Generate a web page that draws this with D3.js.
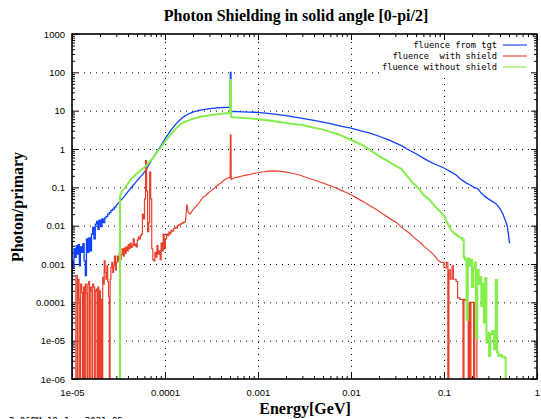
<!DOCTYPE html>
<html><head><meta charset="utf-8">
<script src="https://cdn.jsdelivr.net/npm/d3@7"></script>
<style>
body{margin:0;background:#fff;}
svg{display:block;}
</style></head>
<body>
<svg id="chart" width="541" height="419"></svg>
<script>
// ---- data ----
const xTickValues = [1e-5, 1e-4, 1e-3, 1e-2, 1e-1, 1];
const xTickLabels = ["1e-05", "0.0001", "0.001", "0.01", "0.1", "1"];
const yTickValues = [1e-6, 1e-5, 1e-4, 1e-3, 1e-2, 1e-1, 1, 10, 100, 1000];
const yTickLabels = ["1e-06", "1e-05", "0.0001", "0.001", "0.01", "0.1", "1", "10", "100", "1000"];
const seriesNames = ["fluence from tgt", "fluence  with shield", "fluence without shield"];
const seriesColors = ["#1040ff", "#e8402c", "#84ee4c"];

// [energy GeV, photon/primary] ; 0 = empty bin
const fluenceTgt = [
 [1.00e-5,0],[1.00e-5,0.0012],[1.03e-5,0.0008],[1.05e-5,0.0025],[1.08e-5,0.0015],[1.11e-5,0.0030],
 [1.14e-5,0.0018],[1.17e-5,0.0032],[1.20e-5,0.0009],[1.23e-5,0.0028],[1.27e-5,0.0020],[1.31e-5,0.0034],
 [1.35e-5,0.0012],[1.39e-5,0.0005],[1.43e-5,0.0045],[1.47e-5,0.0020],[1.52e-5,0.0048],[1.57e-5,0.0022],
 [1.62e-5,0.0060],[1.67e-5,0.0090],[1.72e-5,0.0045],[1.78e-5,0.0110],[1.84e-5,0.0130],[1.90e-5,0.0080],
 [1.96e-5,0.0140],[2.03e-5,0.0095],[2.10e-5,0.0150],[2.17e-5,0.0120],[2.25e-5,0.0160],[2.33e-5,0.0175],
 [2.42e-5,0.0200],[2.52e-5,0.0220],[2.62e-5,0.0250],[2.73e-5,0.0270],[2.85e-5,0.0310],[2.97e-5,0.0330],
 [3.10e-5,0.0370],[3.25e-5,0.0420],[3.40e-5,0.0480],[3.56e-5,0.0540],[3.73e-5,0.0620],[3.91e-5,0.0720],
 [4.10e-5,0.0830],[4.30e-5,0.0960],[4.50e-5,0.110],[4.72e-5,0.125],[4.95e-5,0.145],[5.20e-5,0.165],
 [5.46e-5,0.190],[5.73e-5,0.215],[6.00e-5,0.250],[6.30e-5,0.290],[6.60e-5,0.36],[6.90e-5,0.44],
 [7.30e-5,0.55],[7.70e-5,0.67],[8.10e-5,0.82],[8.50e-5,0.98],[9.00e-5,1.20],[9.50e-5,1.50],
 [1.00e-4,1.85],[1.06e-4,2.25],[1.12e-4,2.75],[1.18e-4,3.3],[1.25e-4,3.9],[1.32e-4,4.6],
 [1.40e-4,5.3],[1.48e-4,6.0],[1.57e-4,6.8],[1.67e-4,7.5],[1.78e-4,8.2],[1.90e-4,8.8],
 [2.03e-4,9.3],[2.17e-4,9.7],[2.32e-4,10.2],[2.48e-4,10.5],[2.65e-4,10.8],[2.83e-4,11.0],
 [3.03e-4,11.3],[3.24e-4,11.5],[3.46e-4,11.7],[3.70e-4,11.9],[3.96e-4,12.0],[4.23e-4,12.1],
 [4.52e-4,12.2],[4.83e-4,12.2],[5.02e-4,12.2],[5.05e-4,100],[5.12e-4,100],[5.15e-4,9.6],[5.40e-4,9.5],[6.00e-4,9.4],
 [7.00e-4,9.3],[8.00e-4,9.2],[9.00e-4,9.1],[1.00e-3,9.0],[1.20e-3,8.6],[1.50e-3,8.1],
 [2.00e-3,7.4],[2.50e-3,6.8],[3.00e-3,6.3],[4.00e-3,5.6],[5.00e-3,5.0],[6.00e-3,4.6],
 [7.00e-3,4.2],[8.00e-3,3.9],[1.00e-2,3.5],[1.25e-2,3.0],[1.60e-2,2.6],[2.00e-2,2.15],
 [2.50e-2,1.75],[3.00e-2,1.45],[3.50e-2,1.22],[4.00e-2,1.0],[5.00e-2,0.75],[6.00e-2,0.58],
 [7.00e-2,0.47],[8.00e-2,0.40],[1.00e-1,0.32],[1.10e-1,0.28],[1.20e-1,0.25],[1.35e-1,0.21],
 [1.50e-1,0.165],[1.70e-1,0.135],[1.90e-1,0.115],[2.10e-1,0.10],[2.30e-1,0.092],[2.50e-1,0.072],
 [2.75e-1,0.058],[3.00e-1,0.050],[3.30e-1,0.043],[3.60e-1,0.038],[4.00e-1,0.028],[4.30e-1,0.020],
 [4.60e-1,0.013],[4.80e-1,0.0095],[4.95e-1,0.0055],[5.05e-1,0.0036],[5.15e-1,0.0036]
];

const fluenceWithShield = [
 [1.08e-5,0],[1.10e-5,0.0005],[1.14e-5,0],[1.16e-5,0.0004],[1.19e-5,0.00012],[1.21e-5,0],
 [1.24e-5,0.0003],[1.27e-5,0.00018],[1.30e-5,0],[1.33e-5,0.00025],[1.36e-5,0],[1.39e-5,0.0003],
 [1.42e-5,0.00017],[1.45e-5,0],[1.48e-5,0.0003],[1.51e-5,0.00035],[1.54e-5,0],[1.57e-5,0.00025],
 [1.61e-5,0.0002],[1.64e-5,0],[1.67e-5,0.0003],[1.71e-5,0.00025],[1.75e-5,0],[1.78e-5,0.0002],
 [1.82e-5,0.00022],[1.86e-5,0],[1.90e-5,0.00025],[1.94e-5,0],[1.98e-5,0.0002],[2.02e-5,0],
 [2.06e-5,0.00012],[2.10e-5,0],[2.14e-5,0.00045],[2.18e-5,0.0003],[2.22e-5,0.0012],[2.27e-5,0.0006],
 [2.32e-5,0.0004],[2.37e-5,0.0009],[2.42e-5,0.00035],[2.47e-5,0.00014],[2.52e-5,0],[2.57e-5,0.0004],
 [2.62e-5,0.0008],[2.68e-5,0.0011],[2.74e-5,0.0006],[2.80e-5,0.0009],[2.86e-5,0.0016],[2.93e-5,0.0007],
 [3.00e-5,0.0011],[3.07e-5,0.0016],[3.14e-5,0.0012],[3.22e-5,0.0020],[3.30e-5,0.0013],[3.38e-5,0.0018],
 [3.46e-5,0.0025],[3.55e-5,0.0016],[3.64e-5,0.0026],[3.73e-5,0.0019],[3.82e-5,0.0028],[3.92e-5,0.0022],
 [4.02e-5,0.0032],[4.12e-5,0.0025],[4.22e-5,0.0035],[4.33e-5,0.0027],[4.44e-5,0.0031],[4.55e-5,0.0045],
 [4.67e-5,0.0030],[4.79e-5,0.0033],[4.91e-5,0.0028],[5.03e-5,0.0042],[5.16e-5,0.0050],[5.30e-5,0.0045],
 [5.44e-5,0.0055],[5.58e-5,0.0060],[5.72e-5,0.020],[5.87e-5,0.015],[6.02e-5,0.050],[6.18e-5,0.50],
 [6.34e-5,0.080],[6.50e-5,0.007],[6.67e-5,0.012],[6.84e-5,0.25],[7.02e-5,0.050],[7.20e-5,0.0025],
 [7.39e-5,0.0013],[7.58e-5,0.0012],[7.78e-5,0.0020],[7.98e-5,0.0015],[8.19e-5,0.0030],[8.40e-5,0.0018],
 [8.62e-5,0.0022],[8.85e-5,0.0013],[9.08e-5,0.0035],[9.32e-5,0.0022],[9.56e-5,0.0060],[9.81e-5,0.0025],
 [1.01e-4,0.0045],[1.04e-4,0.0060],[1.07e-4,0.0055],[1.10e-4,0.0068],[1.13e-4,0.0062],[1.16e-4,0.0075],
 [1.20e-4,0.0072],[1.24e-4,0.0085],[1.28e-4,0.0090],[1.32e-4,0.0088],[1.36e-4,0.010],[1.40e-4,0.0105],
 [1.45e-4,0.011],[1.50e-4,0.0115],[1.55e-4,0.012],[1.60e-4,0.0125],[1.66e-4,0.013],[1.72e-4,0.036],
 [1.78e-4,0.022],[1.86e-4,0.020],[1.95e-4,0.024],[2.05e-4,0.028],[2.15e-4,0.032],[2.26e-4,0.036],
 [2.37e-4,0.042],[2.48e-4,0.050],[2.60e-4,0.057],[2.73e-4,0.060],[2.86e-4,0.068],[3.00e-4,0.075],
 [3.15e-4,0.082],[3.30e-4,0.090],[3.46e-4,0.10],[3.63e-4,0.11],[3.80e-4,0.12],[4.00e-4,0.13],
 [4.20e-4,0.145],[4.40e-4,0.16],[4.62e-4,0.17],[4.85e-4,0.18],[5.02e-4,0.18],[5.05e-4,2.3],[5.12e-4,2.3],[5.15e-4,0.16],
 [5.50e-4,0.175],[6.00e-4,0.185],[6.60e-4,0.195],[7.20e-4,0.205],[8.00e-4,0.215],[9.00e-4,0.23],
 [1.00e-3,0.24],[1.15e-3,0.255],[1.30e-3,0.265],[1.50e-3,0.27],[1.70e-3,0.265],[2.00e-3,0.25],
 [2.40e-3,0.23],[2.80e-3,0.21],[3.30e-3,0.18],[4.00e-3,0.155],[5.00e-3,0.13],[6.00e-3,0.11],
 [7.00e-3,0.095],[8.00e-3,0.082],[9.00e-3,0.072],[1.00e-2,0.064],[1.20e-2,0.050],[1.40e-2,0.040],
 [1.60e-2,0.033],[1.90e-2,0.026],[2.20e-2,0.020],[2.60e-2,0.0155],[3.10e-2,0.012],[3.60e-2,0.0085],
 [4.20e-2,0.0065],[4.80e-2,0.0048],[5.50e-2,0.0037],[6.20e-2,0.0028],[7.00e-2,0.0022],[7.80e-2,0.0017],
 [8.50e-2,0.0013],[9.30e-2,0.0011],[1.00e-1,0.0008],[1.06e-1,0.0011],[1.10e-1,0],[1.13e-1,0.0007],
 [1.17e-1,0.0004],[1.22e-1,0.0009],[1.26e-1,0.0004],[1.30e-1,0.0004],[1.35e-1,0.00035],[1.40e-1,0.00013],
 [1.48e-1,0.00012],[1.56e-1,0.00012],[1.60e-1,0],[1.64e-1,0.00012],[1.70e-1,0.00011],[1.76e-1,0.0001],
 [1.82e-1,0],[1.86e-1,0.0001],[1.90e-1,0],[1.95e-1,0.0001],[2.02e-1,0.0001],[2.08e-1,0],
 [2.14e-1,0.0001],[2.20e-1,0.0001],[2.26e-1,0],[2.30e-1,0]
];

const fluenceWithoutShield = [
 [3.28e-5,0],[3.28e-5,0.056],[3.38e-5,0.070],[3.50e-5,0.085],[3.62e-5,0.090],[3.75e-5,0.10],
 [3.90e-5,0.115],[4.05e-5,0.13],[4.20e-5,0.15],[4.40e-5,0.17],[4.60e-5,0.19],[4.80e-5,0.21],
 [5.00e-5,0.23],[5.20e-5,0.25],[5.45e-5,0.28],[5.70e-5,0.30],[6.00e-5,0.33],[6.30e-5,0.37],
 [6.60e-5,0.42],[6.90e-5,0.48],[7.30e-5,0.56],[7.70e-5,0.66],[8.10e-5,0.78],[8.50e-5,0.92],
 [9.00e-5,1.1],[9.50e-5,1.3],[1.00e-4,1.55],[1.06e-4,1.85],[1.12e-4,2.2],[1.18e-4,2.6],
 [1.25e-4,3.0],[1.32e-4,3.5],[1.40e-4,4.0],[1.48e-4,4.5],[1.57e-4,4.9],[1.67e-4,5.2],
 [1.78e-4,5.5],[1.90e-4,5.9],[2.03e-4,6.2],[2.17e-4,6.5],[2.32e-4,6.8],[2.48e-4,7.0],
 [2.65e-4,7.2],[2.83e-4,7.4],[3.03e-4,7.6],[3.24e-4,7.8],[3.46e-4,7.9],[3.70e-4,8.1],
 [3.96e-4,8.2],[4.23e-4,8.4],[4.52e-4,8.5],[4.83e-4,8.6],[5.02e-4,8.6],[5.05e-4,63],[5.12e-4,63],[5.15e-4,6.8],
 [5.40e-4,6.7],[6.00e-4,6.6],[7.00e-4,6.4],[8.00e-4,6.3],[1.00e-3,6.0],[1.20e-3,5.7],
 [1.50e-3,5.3],[2.00e-3,4.8],[2.50e-3,4.45],[3.00e-3,4.2],[4.00e-3,3.6],[5.00e-3,3.2],
 [6.00e-3,2.8],[7.00e-3,2.5],[8.00e-3,2.2],[1.00e-2,1.72],[1.25e-2,1.35],[1.60e-2,0.95],
 [2.00e-2,0.65],[2.50e-2,0.48],[3.00e-2,0.37],[3.50e-2,0.30],[4.00e-2,0.20],[4.50e-2,0.14],
 [5.00e-2,0.11],[5.50e-2,0.085],[6.00e-2,0.065],[7.00e-2,0.047],[8.00e-2,0.032],[9.00e-2,0.024],
 [1.00e-1,0.018],[1.10e-1,0.011],[1.20e-1,0.0075],[1.30e-1,0.0062],[1.40e-1,0.0055],[1.50e-1,0.0048],
 [1.58e-1,0.0042],[1.63e-1,0.0015],[1.68e-1,0.0013],[1.75e-1,3.5e-5],[1.80e-1,0.0014],[1.87e-1,0.0009],
 [1.95e-1,0.0013],[2.00e-1,0.00025],[2.07e-1,0.0008],[2.14e-1,0.0011],[2.20e-1,1.2e-5],[2.28e-1,0.0007],
 [2.36e-1,0.0003],[2.44e-1,0.00045],[2.52e-1,8e-5],[2.60e-1,0.0003],[2.68e-1,3e-5],[2.77e-1,0.00043],
 [2.86e-1,9e-6],[2.95e-1,1.6e-5],[3.05e-1,4e-6],[3.15e-1,1.5e-5],[3.30e-1,1.8e-5],[3.45e-1,6e-6],
 [3.60e-1,0.00038],[3.72e-1,5e-6],[3.85e-1,4e-6],[4.00e-1,4.2e-6],[4.20e-1,3.8e-6],[4.45e-1,3.6e-6],
 [4.60e-1,0],[4.70e-1,0]
];

const seriesData = [fluenceTgt, fluenceWithShield, fluenceWithoutShield];
// energy ranges drawn as histogram steps (noisy parts); the rest is drawn as joined lines
const stepRanges = [[[0, 3.0e-5]], [[0, 1.7e-4], [0.1, 1]], [[0.158, 1]]];

// ---- layout ----
const svg = d3.select("#chart");
const L = 72, R = 537, T = 34, B = 379;
const x = d3.scaleLog().domain([1e-5, 1]).range([L, R]);
const y = d3.scaleLog().domain([1e-6, 1000]).range([B, T]);

const minorX = [], minorY = [];
xTickValues.slice(0, -1).forEach(d => { for (let k = 2; k <= 9; k++) minorX.push(d * k); });
yTickValues.slice(0, -1).forEach(d => { for (let k = 2; k <= 9; k++) minorY.push(d * k); });

svg.append("defs").append("clipPath").attr("id", "clip")
  .append("rect").attr("x", L).attr("y", T).attr("width", R - L).attr("height", B - T);

// grid
const gridStyle = g => g.selectAll("line").attr("stroke", "#000").attr("stroke-width", 1).attr("stroke-dasharray", "1,5");
svg.append("g").attr("transform", `translate(0,${B})`)
  .call(d3.axisBottom(x).tickValues(xTickValues.slice(1, -1)).tickSize(-(B - T)).tickFormat(""))
  .call(g => g.select(".domain").remove()).call(gridStyle);
svg.append("g").attr("transform", `translate(${L},0)`)
  .call(d3.axisLeft(y).tickValues(yTickValues.slice(1, -1)).tickSize(-(R - L)).tickFormat(""))
  .call(g => g.select(".domain").remove()).call(gridStyle);

// opaque key background
svg.append("rect").attr("x", 384).attr("y", 36).attr("width", 151).attr("height", 38).attr("fill", "#fff");

// axes
const tickFont = g => g.selectAll("text").attr("font-family", "Liberation Sans, Arial, sans-serif").attr("font-size", 9.5).attr("fill", "#000");
const fmtX = d => xTickLabels[xTickValues.indexOf(d)];
const fmtY = d => yTickLabels[yTickValues.indexOf(d)];

svg.append("g").attr("transform", `translate(0,${B})`)
  .call(d3.axisBottom(x).tickValues(xTickValues).tickSize(-6).tickPadding(10).tickFormat(fmtX))
  .call(g => g.select(".domain").remove()).call(tickFont);
svg.append("g").attr("transform", `translate(0,${B})`)
  .call(d3.axisBottom(x).tickValues(minorX).tickSize(-3).tickFormat(""))
  .call(g => g.select(".domain").remove());
svg.append("g").attr("transform", `translate(0,${T})`)
  .call(d3.axisTop(x).tickValues(xTickValues).tickSize(-6).tickFormat(""))
  .call(g => g.select(".domain").remove());
svg.append("g").attr("transform", `translate(0,${T})`)
  .call(d3.axisTop(x).tickValues(minorX).tickSize(-3).tickFormat(""))
  .call(g => g.select(".domain").remove());

svg.append("g").attr("transform", `translate(${L},0)`)
  .call(d3.axisLeft(y).tickValues(yTickValues).tickSize(-6).tickPadding(7).tickFormat(fmtY))
  .call(g => g.select(".domain").remove()).call(tickFont);
svg.append("g").attr("transform", `translate(${L},0)`)
  .call(d3.axisLeft(y).tickValues(minorY).tickSize(-3).tickFormat(""))
  .call(g => g.select(".domain").remove());
svg.append("g").attr("transform", `translate(${R},0)`)
  .call(d3.axisRight(y).tickValues(yTickValues).tickSize(-6).tickFormat(""))
  .call(g => g.select(".domain").remove());
svg.append("g").attr("transform", `translate(${R},0)`)
  .call(d3.axisRight(y).tickValues(minorY).tickSize(-3).tickFormat(""))
  .call(g => g.select(".domain").remove());

// series
const yv = v => v > 0 ? y(v) : B + 5;
const stepLine = d3.line().x(d => x(d[0])).y(d => yv(d[1])).curve(d3.curveStepAfter);
const joinLine = d3.line().x(d => x(d[0])).y(d => yv(d[1]));
const widths = [1.3, 1.2, 2.0];
const plot = svg.append("g").attr("clip-path", "url(#clip)");

function segments(data, ranges) {
  // split into consecutive runs, each tagged step / joined; neighbouring runs share an end point
  const inStep = e => ranges.some(r => e >= r[0] && e <= r[1]);
  const segs = [];
  let cur = null;
  data.forEach((d, i) => {
    const s = inStep(d[0]);
    if (!cur || cur.step !== s) {
      const start = cur ? [cur.pts[cur.pts.length - 1]] : [];
      cur = { step: s, pts: start };
      segs.push(cur);
    }
    cur.pts.push(d);
  });
  return segs;
}

seriesData.forEach((data, i) => {
  segments(data, stepRanges[i]).forEach(seg => {
    plot.append("path").attr("d", (seg.step ? stepLine : joinLine)(seg.pts))
      .attr("fill", "none").attr("stroke", seriesColors[i])
      .attr("stroke-width", widths[i]).attr("stroke-linejoin", "miter");
  });
});

// frame
svg.append("rect").attr("x", L).attr("y", T).attr("width", R - L).attr("height", B - T)
  .attr("fill", "none").attr("stroke", "#000").attr("stroke-width", 1.6);

// legend
const lg = svg.append("g");
seriesNames.forEach((n, i) => {
  const yy = 45 + i * 11;
  lg.append("text").attr("x", 497).attr("y", yy).attr("dy", "0.35em").attr("text-anchor", "end")
    .attr("font-family", "DejaVu Sans Mono, monospace").attr("font-size", 8.7)
    .attr("xml:space", "preserve").style("white-space", "pre").text(n);
  lg.append("line").attr("x1", 503).attr("x2", 527).attr("y1", yy).attr("y2", yy)
    .attr("stroke", seriesColors[i]).attr("stroke-width", 1.5).attr("stroke-opacity", 0.75);
});

// titles
const serif = "Liberation Serif, Times New Roman, serif";
svg.append("text").attr("x", 296).attr("y", 21).attr("text-anchor", "middle")
  .attr("font-family", serif).attr("font-weight", "bold").attr("font-size", 16)
  .text("Photon Shielding in solid angle [0-pi/2]");
svg.append("text").attr("x", 305).attr("y", 414).attr("text-anchor", "middle")
  .attr("font-family", serif).attr("font-weight", "bold").attr("font-size", 16)
  .text("Energy[GeV]");
svg.append("text").attr("transform", "translate(23,207) rotate(-90)").attr("text-anchor", "middle")
  .attr("font-family", serif).attr("font-weight", "bold").attr("font-size", 16)
  .text("Photon/primary");
svg.append("text").attr("x", 9).attr("y", 424)
  .attr("font-family", "DejaVu Sans Mono, monospace").attr("font-size", 9)
  .text("2.06PM 18 Jun 2021 05");
</script>
</body></html>
